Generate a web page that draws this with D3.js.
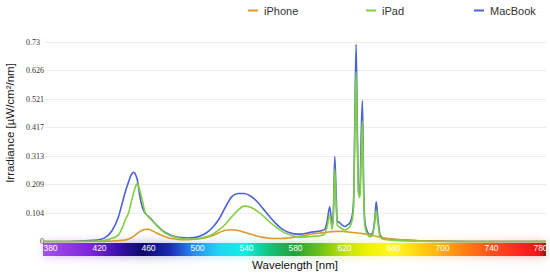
<!DOCTYPE html>
<html>
<head>
<meta charset="utf-8">
<script src="https://cdn.jsdelivr.net/npm/d3@7"></script>
<style>
  body { margin: 0; background: #fff; }
  svg { display: block; }
</style>
</head>
<body>
<div id="chart"></div>
<script>
// wavelengths [nm], rows: 380-440 | 443-465 | 470-600 | 604-626 | 627-636 | 638-780
var wavelengths = [
  380, 400, 420, 425, 430, 435, 440,
  443, 446, 448, 450, 452, 454, 455, 457, 459, 461, 463, 465,
  470, 475, 480, 485, 490, 495, 500, 505, 510, 515, 520, 525, 530, 535, 540, 545, 550, 555, 560, 565, 570, 575, 580, 585, 590, 595, 600,
  604, 606, 608, 610, 611, 612, 613, 614, 616, 618, 620, 622, 624, 626,
  627, 628, 629, 630, 631, 632, 633, 634, 635, 636,
  638, 640, 642, 644, 645, 646, 648, 650, 655, 660, 670, 680, 700, 720, 740, 760, 780
]

var iphone = [
  0, 0, 0, 0, 0.001, 0.002, 0.003,
  0.004, 0.006, 0.009, 0.013, 0.019, 0.026, 0.03, 0.036, 0.041, 0.044, 0.045, 0.043,
  0.032, 0.021, 0.013, 0.009, 0.007, 0.007, 0.008, 0.01, 0.015, 0.022, 0.032, 0.041, 0.043, 0.04, 0.034, 0.027, 0.02, 0.015, 0.012, 0.011, 0.011, 0.013, 0.016, 0.02, 0.024, 0.028, 0.031,
  0.033, 0.034, 0.035, 0.036, 0.036, 0.037, 0.037, 0.037, 0.037, 0.037, 0.036, 0.035, 0.034, 0.033,
  0.033, 0.032, 0.032, 0.031, 0.031, 0.03, 0.03, 0.029, 0.028, 0.028,
  0.026, 0.024, 0.022, 0.02, 0.019, 0.018, 0.016, 0.014, 0.011, 0.008, 0.005, 0.003, 0.001, 0, 0, 0, 0
]

var ipad = [
  0, 0, 0.001, 0.002, 0.005, 0.012, 0.024,
  0.05, 0.085, 0.104, 0.14, 0.176, 0.205, 0.212, 0.185, 0.15, 0.109, 0.095, 0.085,
  0.06, 0.038, 0.024, 0.016, 0.011, 0.009, 0.009, 0.012, 0.017, 0.027, 0.042, 0.063, 0.09, 0.114, 0.129, 0.125, 0.112, 0.094, 0.072, 0.053, 0.037, 0.026, 0.019, 0.016, 0.017, 0.019, 0.021,
  0.027, 0.055, 0.097, 0.045, 0.1, 0.265, 0.15, 0.06, 0.052, 0.046, 0.042, 0.046, 0.054, 0.08,
  0.13, 0.4, 0.62, 0.34, 0.17, 0.16, 0.3, 0.44, 0.17, 0.055,
  0.025, 0.017, 0.022, 0.075, 0.115, 0.08, 0.018, 0.009, 0.006, 0.004, 0.002, 0.001, 0, 0, 0, 0, 0
]

var macbook = [
  0, 0, 0.004, 0.007, 0.016, 0.04, 0.09,
  0.14, 0.19, 0.217, 0.242, 0.253, 0.24, 0.225, 0.165, 0.125, 0.105, 0.095, 0.086,
  0.062, 0.04, 0.027, 0.018, 0.014, 0.013, 0.014, 0.02, 0.032, 0.052, 0.082, 0.125, 0.163, 0.175, 0.175, 0.166, 0.147, 0.12, 0.092, 0.066, 0.046, 0.034, 0.028, 0.027, 0.031, 0.035, 0.038,
  0.044, 0.075, 0.127, 0.058, 0.12, 0.31, 0.19, 0.075, 0.068, 0.06, 0.055, 0.06, 0.068, 0.097,
  0.15, 0.45, 0.72, 0.4, 0.18, 0.165, 0.38, 0.514, 0.2, 0.07,
  0.035, 0.025, 0.03, 0.09, 0.145, 0.1, 0.025, 0.014, 0.009, 0.007, 0.004, 0.002, 0.001, 0, 0, 0, 0
]

var yTicks = [0.104, 0.209, 0.313, 0.417, 0.521, 0.626, 0.73]
var xTicks = [380, 420, 460, 500, 540, 580, 620, 660, 700, 740, 780]

var seriesNames = ["iPhone", "iPad", "MacBook"]
var seriesColors = { iPhone: "#dc9a2c", iPad: "#7fd040", MacBook: "#4c62d4" }

// spectrum strip colours (nm -> colour)
var specNm = [380, 420, 440, 460, 480, 500, 520, 540, 560, 580, 600, 620, 640, 660, 680, 700, 720, 740, 760, 775, 780]
var specCol = ["#a452ea", "#7a22dc", "#3a10a8", "#0c0a6c", "#1a28b0", "#2a8cf2", "#22d6f2", "#10eee8", "#12c27a", "#24a23a",
               "#6cc218", "#c2e204", "#f2f406", "#fff824", "#ffd010", "#ffa414", "#ff7414", "#ff4a1e", "#ff2420", "#ee1414", "#7a2412"]

var W = 550, H = 274
var x = d3.scaleLinear().domain([380, 780]).range([43, 546])
var xLab = d3.scaleLinear().domain([380, 780]).range([50, 540])
var y = d3.scaleLinear().domain([0, 0.73]).range([241.5, 41.5])

var svg = d3.select("#chart").append("svg")
    .attr("width", W)
    .attr("height", H)
    .style("font-family", "'Liberation Sans', Arial, sans-serif")

var defs = svg.append("defs")
var grad = defs.append("linearGradient").attr("id", "spec")
grad.selectAll("stop")
    .data(specNm)
    .enter()
    .append("stop")
    .attr("offset", d => (d - 380) / 400)
    .attr("stop-color", (d, i) => specCol[i])
defs.append("filter").attr("id", "glow")
    .attr("x", "-5%").attr("y", "-100%").attr("width", "110%").attr("height", "300%")
    .append("feGaussianBlur").attr("stdDeviation", 4)

// grid lines
svg.append("g")
    .selectAll("line")
    .data(yTicks)
    .enter()
    .append("line")
    .attr("x1", 45).attr("x2", 546)
    .attr("y1", d => Math.round(y(d)) + 0.5)
    .attr("y2", d => Math.round(y(d)) + 0.5)
    .attr("stroke", "#ececec")

// y labels
svg.append("g")
    .selectAll("text")
    .data(yTicks)
    .enter()
    .append("text")
    .attr("x", 26)
    .attr("y", d => y(d) + 3)
    .style("font-family", "'Liberation Serif', 'Times New Roman', serif")
    .style("font-size", "8px")
    .attr("fill", "#333")
    .text(d => d)

svg.append("text")
    .attr("x", 42).attr("y", 244)
    .attr("text-anchor", "middle")
    .style("font-family", "'Liberation Serif', 'Times New Roman', serif")
    .style("font-size", "8px")
    .attr("fill", "#333")
    .text("0")

// spectrum strip
svg.append("rect")
    .attr("x", x(380)).attr("y", 241)
    .attr("width", x(780) - x(380)).attr("height", 17)
    .attr("fill", "url(#spec)")
    .attr("opacity", 0.25)
    .attr("filter", "url(#glow)")
svg.append("rect")
    .attr("x", x(380)).attr("y", 243)
    .attr("width", x(780) - x(380)).attr("height", 13)
    .attr("fill", "url(#spec)")

var xAxis = svg.append("g")
    .attr("transform", "translate(0,246)")
    .call(d3.axisBottom(xLab).tickValues(xTicks).tickSize(0).tickPadding(0))
xAxis.select(".domain").remove()
xAxis.selectAll("text")
    .attr("fill", "#fff")
    .attr("dy", "0.6em")
    .style("font-family", "'Liberation Sans', Arial, sans-serif")
    .style("font-size", "8.5px")

// lines
var rows = wavelengths.map((w, i) => ({ w: w, iPhone: iphone[i], iPad: ipad[i], MacBook: macbook[i] }))
var drawOrder = ["MacBook", "iPhone", "iPad"]
drawOrder.forEach(function (name) {
    var line = d3.line()
        .x(d => x(d.w))
        .y(d => y(d[name]))
        .curve(d3.curveMonotoneX)
    svg.append("path")
        .datum(rows)
        .attr("d", line)
        .attr("fill", "none")
        .attr("stroke", seriesColors[name])
        .attr("stroke-width", 1.6)
        .attr("stroke-linejoin", "round")
})

// legend
var legX = [248, 366, 474]
var leg = svg.append("g")
    .selectAll("g")
    .data(seriesNames)
    .enter()
    .append("g")
    .attr("transform", (d, i) => "translate(" + legX[i] + ",10.5)")
leg.append("line")
    .attr("x1", 0).attr("x2", 10)
    .attr("stroke", d => seriesColors[d])
    .attr("stroke-width", 2)
leg.append("text")
    .attr("x", 16).attr("y", 4)
    .style("font-size", "11px")
    .attr("fill", "#333")
    .text(d => d)

// axis titles
svg.append("text")
    .attr("transform", "translate(14,123) rotate(-90)")
    .attr("text-anchor", "middle")
    .style("font-size", "11.5px")
    .attr("fill", "#222")
    .text("Irradiance [µW/cm²/nm]")

svg.append("text")
    .attr("x", 295).attr("y", 269)
    .attr("text-anchor", "middle")
    .style("font-size", "11.5px")
    .attr("fill", "#111")
    .text("Wavelength [nm]")
</script>
</body>
</html>
